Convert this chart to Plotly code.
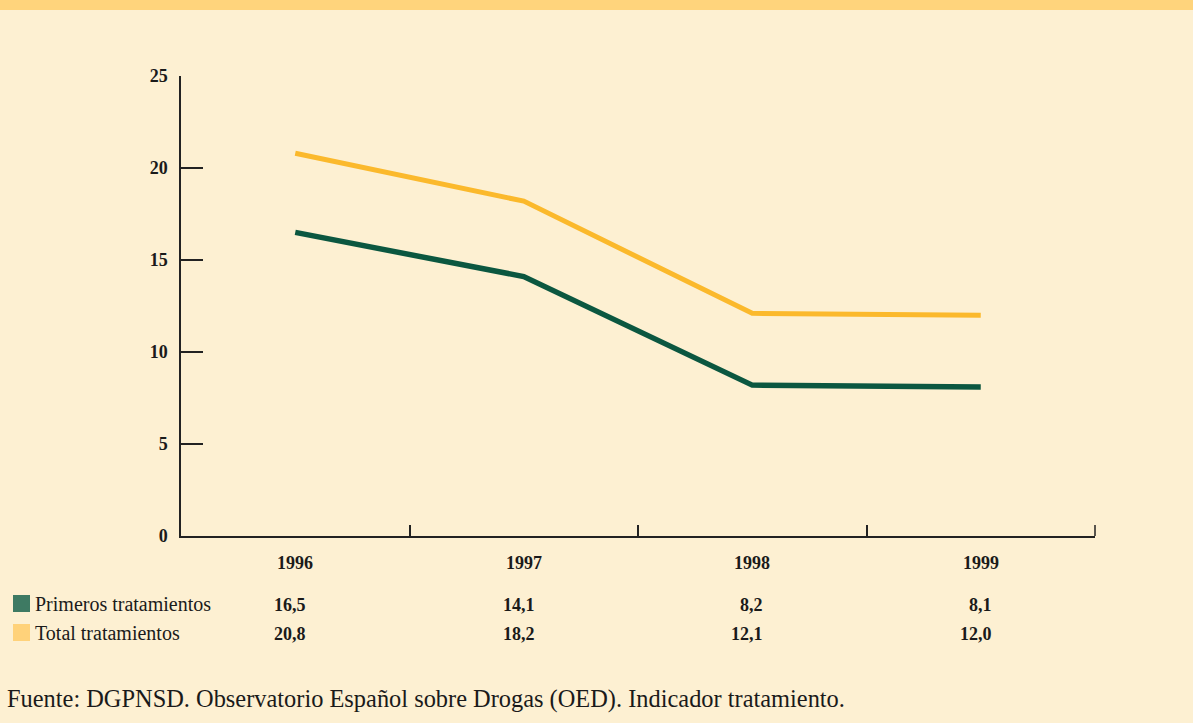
import plotly.graph_objects as go

# Data
years = ["1996", "1997", "1998", "1999"]
primeros = [16.5, 14.1, 8.2, 8.1]
total = [20.8, 18.2, 12.1, 12.0]
primeros_labels = ["16,5", "14,1", "8,2", "8,1"]
total_labels = ["20,8", "18,2", "12,1", "12,0"]
series_names = ["Primeros tratamientos", "Total tratamientos"]
y_ticks = [0, 5, 10, 15, 20, 25]
source_text = "Fuente: DGPNSD. Observatorio Español sobre Drogas (OED). Indicador tratamiento."

# Styling
W, H = 1193, 723
BG = "#FDF0D2"
BAND = "#FFD47C"
GREEN_LINE = "#0B5740"
YELLOW_LINE = "#FBB92C"
GREEN_SWATCH = "#3E7A63"
YELLOW_SWATCH = "#FFD27A"
TEXT = "#1a1a1a"
AXIS = "#222"
SERIF = "Liberation Serif, Times New Roman, serif"
L, R, T, B = 181, 98, 76, 187
PW, PH = W - L - R, H - T - B

xs = list(range(len(years)))


def px_to_paper_x(px):
    return (px - L) / PW


def px_to_paper_y(py):
    return (H - B - py) / PH


fig = go.Figure()
fig.add_trace(go.Scatter(x=xs, y=total, mode="lines", name=series_names[1],
                         line=dict(color=YELLOW_LINE, width=5), hoverinfo="skip"))
fig.add_trace(go.Scatter(x=xs, y=primeros, mode="lines", name=series_names[0],
                         line=dict(color=GREEN_LINE, width=5.5), hoverinfo="skip"))

annotations = []
shapes = []

# Year header row under the axis
for i, yr in enumerate(years):
    annotations.append(dict(x=i, y=px_to_paper_y(563), xref="x", yref="paper", text=f"<b>{yr}</b>",
                            showarrow=False, xanchor="center", yanchor="middle",
                            font=dict(family=SERIF, size=18, color=TEXT)))

# Value rows
for row_y, labels in ((605, primeros_labels), (634, total_labels)):
    for i, lab in enumerate(labels):
        annotations.append(dict(x=i, y=px_to_paper_y(row_y), xref="x", yref="paper", text=f"<b>{lab}</b>",
                                showarrow=False, xanchor="right", yanchor="middle", xshift=13,
                                font=dict(family=SERIF, size=18, color=TEXT)))

# Row labels with colour swatches
for row_y, name, col in ((604, series_names[0], GREEN_SWATCH), (633, series_names[1], YELLOW_SWATCH)):
    shapes.append(dict(type="rect", xref="paper", yref="paper",
                       x0=px_to_paper_x(13), x1=px_to_paper_x(30),
                       y0=px_to_paper_y(row_y - 9), y1=px_to_paper_y(row_y + 8),
                       fillcolor=col, line=dict(width=0)))
    annotations.append(dict(x=px_to_paper_x(33), y=px_to_paper_y(row_y), xref="paper", yref="paper",
                            text=name, showarrow=False, xanchor="left", yanchor="middle",
                            font=dict(family=SERIF, size=20, color=TEXT)))

# Source note
annotations.append(dict(x=px_to_paper_x(5), y=px_to_paper_y(699), xref="paper", yref="paper",
                        text=source_text, showarrow=False, xanchor="left", yanchor="middle",
                        font=dict(family=SERIF, size=24.4, color=TEXT)))

# Top colour band
shapes.append(dict(type="rect", xref="paper", yref="paper",
                   x0=px_to_paper_x(0), x1=px_to_paper_x(W),
                   y0=px_to_paper_y(10), y1=px_to_paper_y(0),
                   fillcolor=BAND, line=dict(width=0), layer="below"))

# Closing tick at the right end of the x axis
shapes.append(dict(type="line", xref="paper", yref="paper",
                   x0=1, x1=1, y0=0, y1=11 / PH,
                   line=dict(color=AXIS, width=1.5)))

fig.update_layout(
    width=W, height=H,
    margin=dict(l=L, r=R, t=T, b=B, pad=0),
    paper_bgcolor=BG, plot_bgcolor=BG,
    showlegend=False,
    annotations=annotations,
    shapes=shapes,
    xaxis=dict(range=[-0.5, len(years) - 0.5], showgrid=False, zeroline=False,
               showline=True, linecolor=AXIS, linewidth=1.5,
               tickmode="array", tickvals=[i + 0.5 for i in xs[:-1]], ticks="inside",
               ticklen=11, tickwidth=1.5, tickcolor=AXIS, showticklabels=False),
    yaxis=dict(range=[0, 25], showgrid=False, zeroline=False,
               showline=True, linecolor=AXIS, linewidth=1.5,
               tickmode="array", tickvals=y_ticks, ticktext=[f"<b>{v}</b>" for v in y_ticks],
               ticks="inside", ticklen=22, tickwidth=1.5, tickcolor=AXIS,
               ticklabelstandoff=8,
               tickfont=dict(family=SERIF, size=18, color=TEXT)),
)

fig.write_html("out.html")
